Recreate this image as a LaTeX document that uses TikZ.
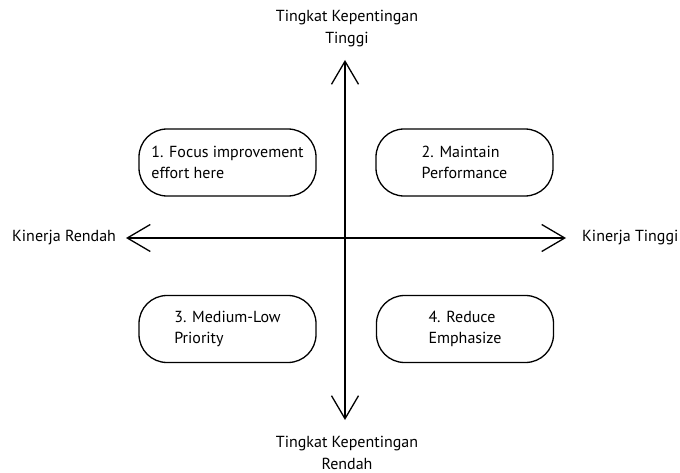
\documentclass[tikz,border=0pt]{standalone}
\usepackage{fontspec}
\setmainfont{PT Sans}
\usetikzlibrary{arrows.meta}
\begin{document}
\begin{tikzpicture}[x=1pt,y=-1pt,
  quad/.style={draw, line width=1.3pt, rounded corners=28pt, minimum width=177pt, minimum height=67pt, align=left, font=\fontsize{16}{21}\selectfont, inner sep=0pt},
  lbl/.style={align=center, font=\fontsize{16}{22}\selectfont, inner sep=0pt},
  axis/.style={line width=1.3pt, -{Straight Barb[length=23pt,width=27pt,line width=1.3pt]}}]
\useasboundingbox (0,0) rectangle (680,473);
\coordinate (top) at (345,60);
\coordinate (bot) at (345,420);
\coordinate (left) at (126,238);
\coordinate (right) at (566,238);
\coordinate (c) at (345,238);
\draw[axis] (c) -- (top);
\draw[axis] (c) -- (bot);
\draw[axis] (c) -- (left);
\draw[axis] (c) -- (right);
\node[lbl] (tl) at (347,29) {Tingkat Kepentingan\\Tinggi};
\node[lbl] (bl) at (347,453) {Tingkat Kepentingan\\Rendah};
\node[lbl, anchor=west] (ll) at (12,238) {Kinerja Rendah};
\node[lbl, anchor=west] (rl) at (582,238) {Kinerja Tinggi};
\node[quad] (q1) at (227.5,162.5) {1. Focus improvement\\effort here};
\node[quad] (q2) at (464.5,162.5) {2. Maintain\\Performance};
\node[quad] (q3) at (227.5,329) {3. Medium-Low\\Priority};
\node[quad] (q4) at (465,329) {4. Reduce\\Emphasize};
\end{tikzpicture}
\end{document}
